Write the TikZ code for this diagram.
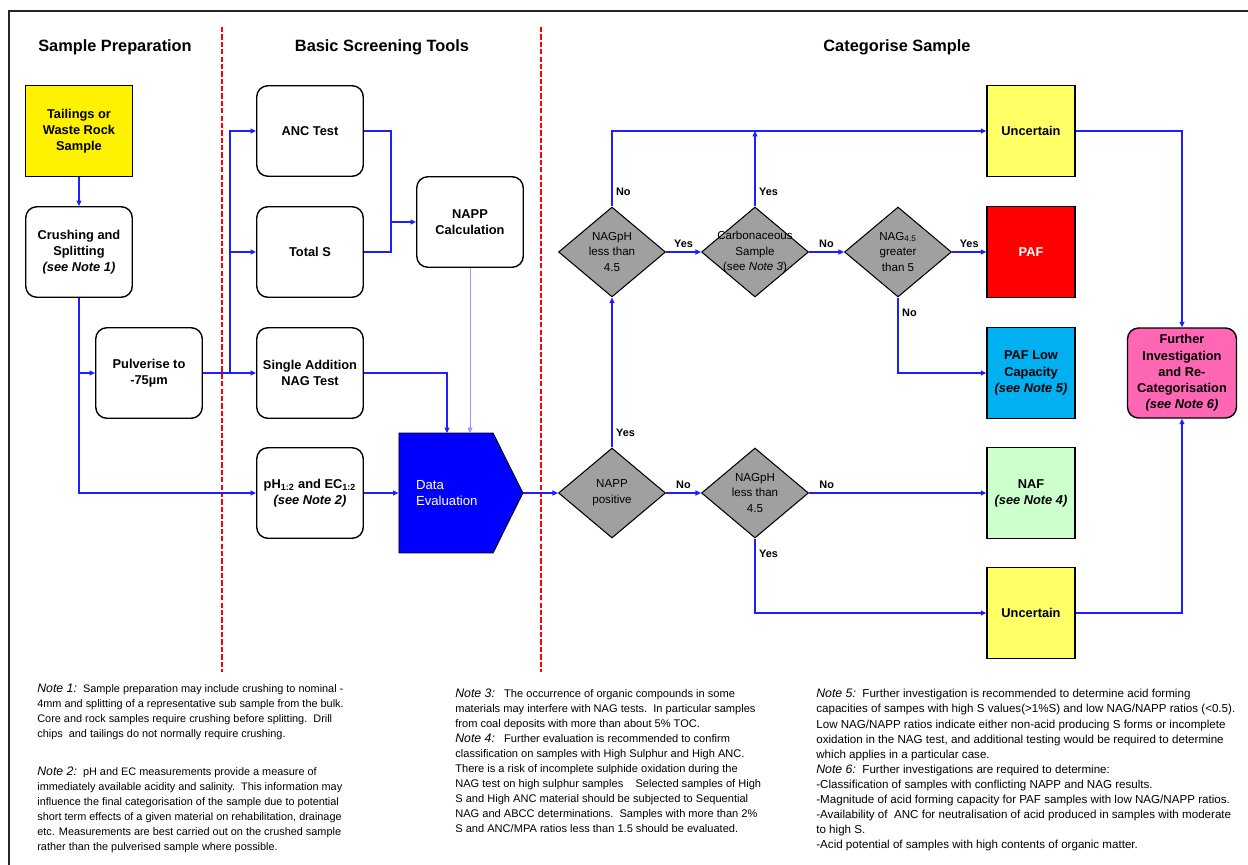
\documentclass[tikz,border=0pt]{standalone}
\usepackage{fontspec}
\setmainfont{Liberation Sans}
\usetikzlibrary{arrows.meta,shapes.geometric,shapes.symbols}

\definecolor{flowblue}{RGB}{30,30,255}
\definecolor{paleblue}{RGB}{150,150,255}
\definecolor{uncyellow}{RGB}{255,255,102}
\definecolor{lowcyan}{RGB}{0,176,240}
\definecolor{nafgreen}{RGB}{204,255,204}
\definecolor{furtherpink}{RGB}{255,102,180}
\definecolor{diagrey}{RGB}{160,160,160}

\newcommand\notehead[1]{{\fontsize{7}{8.5}\selectfont\itshape #1}}

\begin{document}
\begin{tikzpicture}[x=0.02cm, y=-0.02cm,
    box/.style={draw, line width=0.8pt, rounded corners=0.22cm, minimum width=2.13cm, minimum height=1.81cm,
        align=center, inner sep=1pt, font=\fontsize{7.3}{9.2}\selectfont\bfseries},
    result/.style={draw, line width=0.8pt, minimum width=1.76cm, minimum height=1.81cm,
        align=center, inner sep=1pt, font=\fontsize{7.3}{9.2}\selectfont\bfseries},
    decision/.style={diamond, draw, line width=0.6pt, fill=diagrey, minimum width=2.14cm, minimum height=1.8cm,
        inner sep=0pt, label={[dtext]center:#1}},
    dtext/.style={align=center, inner sep=0pt, font=\fontsize{6.6}{9}\selectfont},
    conn/.style={draw=flowblue, line width=0.7pt, -{Triangle[length=1.1mm,width=1mm]}},
    link/.style={draw=flowblue, line width=0.7pt},
    lbl/.style={font=\fontsize{6.2}{7}\selectfont\bfseries, inner sep=2pt},
    title/.style={font=\fontsize{9.3}{11}\selectfont\bfseries},
    note/.style={anchor=north west, align=left, inner sep=0pt},
    divider/.style={red, line width=1.3pt, dash pattern=on 3pt off 1.2pt}
]
    \useasboundingbox (0,0) rectangle (1248,865);

    % Cornice e separatori
    \draw[line width=1.1pt, black!85] (9,865) -- (9,11) -- (1248,11);
    \draw[divider] (222,27) -- (222,672);
    \draw[divider] (541,27) -- (541,672);

    % Titoli
    \node[title] (ttlprep) at (115,47) {Sample Preparation};
    \node[title] (ttlscreen) at (382,47) {Basic Screening Tools};
    \node[title] (ttlcat) at (897,47) {Categorise Sample};

    % Preparazione campione
    \node[result, fill=yellow, minimum width=2.13cm] (tail) at (79,131) {Tailings or\\Waste Rock\\Sample};
    \node[box] (crush) at (79,252) {Crushing and\\Splitting\\\textit{(see Note 1)}};
    \node[box] (pulv) at (149,373) {Pulverise to\\-75µm};

    % Test di screening
    \node[box] (anc) at (310,131) {ANC Test};
    \node[box] (tots) at (310,252) {Total S};
    \node[box] (sanag) at (310,373) {Single Addition\\NAG Test};
    \node[box] (ph) at (310,493) {pH\textsubscript{1:2} and EC\textsubscript{1:2}\\\textit{(see Note 2)}};
    \node[box] (napp) at (470,222) {NAPP\\Calculation};
    \node[signal, signal to=east, signal pointer angle=127, draw=black, line width=0.5pt, fill=blue,
        minimum width=2.48cm, minimum height=2.4cm, inner sep=0pt, text=white, text width=1.2cm, align=left,
        font=\fontsize{7.5}{9.2}\selectfont] (deval) at (446,493) {Data\\Evaluation};

    % Decisioni
    \node[decision={NAGpH\\less than\\4.5}] (nagup) at (612,252) {};
    \node[decision={Carbonaceous\\Sample\\(see \textit{Note 3})}] (carb) at (755,252) {};
    \node[decision={NAG\textsubscript{4.5}\\greater\\than 5}] (nag45) at (898,252) {};
    \node[decision={NAPP\\positive}] (nappp) at (612,493) {};
    \node[decision={NAGpH\\less than\\4.5}] (naglo) at (755,493) {};

    % Categorie
    \node[result, fill=uncyellow] (unctop) at (1031,131) {Uncertain};
    \node[result, fill=red, text=white] (paf) at (1031,252) {PAF};
    \node[result, fill=lowcyan] (pafl) at (1031,373) {PAF Low\\Capacity\\\textit{(see Note 5)}};
    \node[result, fill=nafgreen] (naf) at (1031,493) {NAF\\\textit{(see Note 4)}};
    \node[result, fill=uncyellow] (uncbot) at (1031,613) {Uncertain};
    \node[box, fill=furtherpink, minimum width=2.18cm, minimum height=1.8cm] (further) at (1182,373)
        {Further\\Investigation\\and Re-\\Categorisation\\\textit{(see Note 6)}};

    % Collegamenti
    \coordinate (split) at (230,373);
    \coordinate (join) at (391,222);
    \coordinate (dtop) at (447,433);
    \draw[conn] (tail) -- (crush);
    \draw[conn] (crush.south) |- (ph.west);
    \draw[conn] (crush.south |- pulv.west) -- (pulv.west);
    \draw[conn] (pulv.east) -- (sanag.west);
    \draw[conn] (split) |- (anc.west);
    \draw[conn] (split) |- (tots.west);
    \draw[link] (anc.east) -| (join);
    \draw[link] (tots.east) -| (join);
    \draw[conn] (join) -- (napp.west);
    \draw[conn] (sanag.east) -| (dtop);
    \draw[conn, draw=paleblue, line width=0.5pt] (napp.south) -- (napp.south |- dtop);
    \draw[conn] (ph.east) -- (deval.west);
    \draw[conn] (deval.east) -- (nappp.west);

    \draw[conn] (nappp.north) -- (nagup.south) node[lbl, right, pos=0.1] (yes1) {Yes};
    \draw[conn] (nagup.north) |- (unctop.west) node[lbl, right, pos=0.1] (no1) {No};
    \draw[conn] (nagup.east) -- (carb.west) node[lbl, above, midway] (yes2) {Yes};
    \draw[conn] (carb.north) -- (carb.north |- unctop.west) node[lbl, right, pos=0.2] (yes3) {Yes};
    \draw[conn] (carb.east) -- (nag45.west) node[lbl, above, midway] (no2) {No};
    \draw[conn] (nag45.east) -- (paf.west) node[lbl, above, midway] (yes4) {Yes};
    \draw[conn] (nag45.south) |- (pafl.west) node[lbl, right, pos=0.1] (no3) {No};
    \draw[conn] (nappp.east) -- (naglo.west) node[lbl, above, midway] (no4) {No};
    \draw[conn] (naglo.east) -- (naf.west) node[lbl, above, pos=0.1] (no5) {No};
    \draw[conn] (naglo.south) |- (uncbot.west) node[lbl, right, pos=0.1] (yes5) {Yes};
    \draw[conn] (unctop.east) -| (further.north);
    \draw[conn] (uncbot.east) -| (further.south);

    % Note
    \node[note, font=\fontsize{6.2}{8.5}\selectfont] (note1) at (37,684) {\notehead{Note 1:}\ \ Sample preparation may include crushing to nominal -\\
        4mm and splitting of a representative sub sample from the bulk.\\
        Core and rock samples require crushing before splitting.\ \ Drill\\
        chips\ \ and tailings do not normally require crushing.};
    \node[note, font=\fontsize{6.2}{8.5}\selectfont] (note2) at (37,767) {\notehead{Note 2:}\ \ pH and EC measurements provide a measure of\\
        immediately available acidity and salinity.\ \ This information may\\
        influence the final categorisation of the sample due to potential\\
        short term effects of a given material on rehabilitation, drainage\\
        etc. Measurements are best carried out on the crushed sample\\
        rather than the pulverised sample where possible.};
    \node[note, font=\fontsize{6.3}{8.5}\selectfont] (note34) at (455,689) {\notehead{Note 3:}\ \ \ The occurrence of organic compounds in some\\
        materials may interfere with NAG tests.\ \ In particular samples\\
        from coal deposits with more than about 5\% TOC.\\
        \notehead{Note 4:}\ \ \ Further evaluation is recommended to confirm\\
        classification on samples with High Sulphur and High ANC.\\
        There is a risk of incomplete sulphide oxidation during the\\
        NAG test on high sulphur samples\ \ \ \ Selected samples of High\\
        S and High ANC material should be subjected to Sequential\\
        NAG and ABCC determinations.\ \ Samples with more than 2\%\\
        S and ANC/MPA ratios less than 1.5 should be evaluated.};
    \node[note, font=\fontsize{6.6}{8.6}\selectfont] (note56) at (816,689) {\notehead{Note 5:}\ \ Further investigation is recommended to determine acid forming\\
        capacities of sampes with high S values(>1\%S) and low NAG/NAPP ratios (<0.5).\\
        Low NAG/NAPP ratios indicate either non-acid producing S forms or incomplete\\
        oxidation in the NAG test, and additional testing would be required to determine\\
        which applies in a particular case.\\
        \notehead{Note 6:}\ \ Further investigations are required to determine:\\
        -Classification of samples with conflicting NAPP and NAG results.\\
        -Magnitude of acid forming capacity for PAF samples with low NAG/NAPP ratios.\\
        -Availability of\ \ ANC for neutralisation of acid produced in samples with moderate\\
        to high S.\\
        -Acid potential of samples with high contents of organic matter.};
\end{tikzpicture}
\end{document}
